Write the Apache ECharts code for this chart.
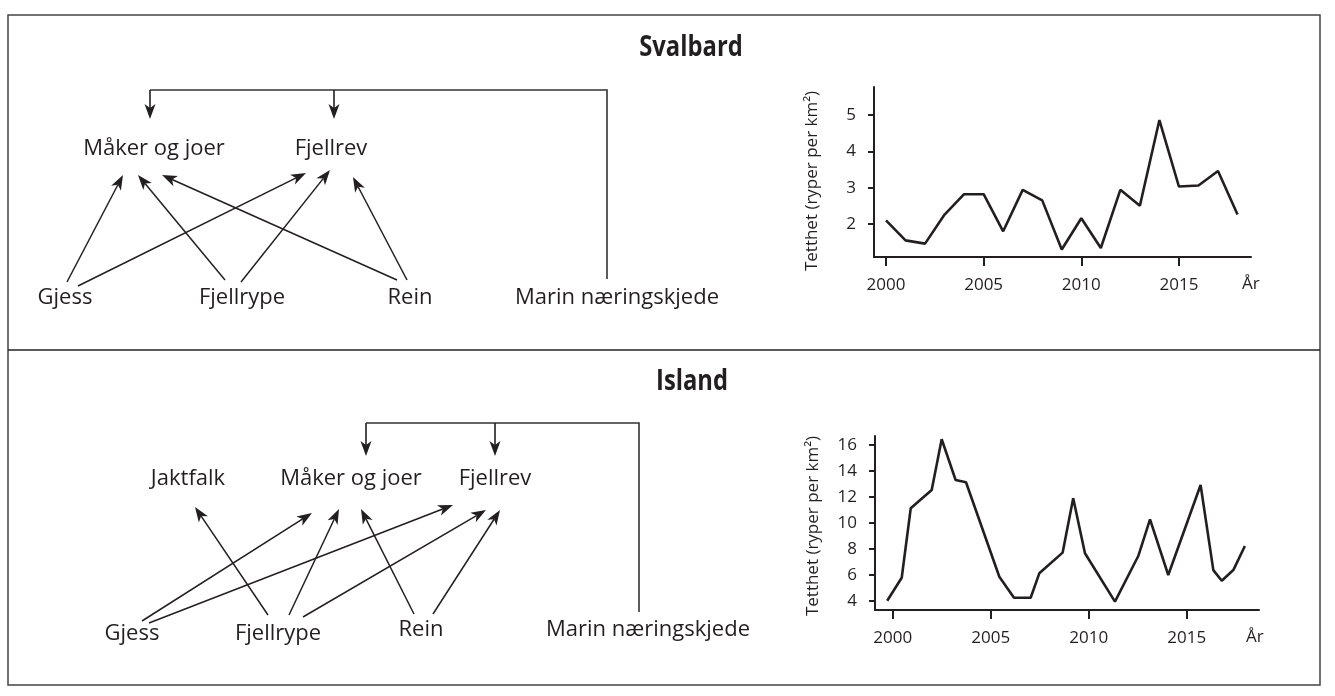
<!DOCTYPE html>
<html>
<head>
<meta charset="utf-8">
<script src="https://cdn.jsdelivr.net/npm/echarts@6/dist/echarts.min.js"></script>
<style>
  html, body { margin: 0; padding: 0; background: #fff; }
  #echarts { width: 1335px; height: 696px; }
</style>
</head>
<body>
<div id="echarts"></div>
<script>
// tetthet fjellrype, Svalbard
var svalbardYears = [2000, 2001, 2002, 2003, 2004, 2005, 2006, 2007, 2008, 2009,
  2010, 2011, 2012, 2013, 2014, 2015, 2016, 2017, 2018];
var svalbardValues = [2.10, 1.55, 1.46, 2.26, 2.82, 2.82, 1.80, 2.94, 2.65, 1.30,
  2.16, 1.34, 2.94, 2.50, 4.86, 3.03, 3.06, 3.46, 2.26];

// tetthet fjellrype, Island (punktene ligger ikke på hele år)
var islandYears = [1999.72, 2000.46, 2000.92, 2001.99, 2002.50, 2003.21, 2003.74, 2005.44,
  2006.19, 2007.04, 2007.48, 2008.67, 2009.21, 2009.81, 2011.34, 2012.53, 2013.13,
  2014.06, 2015.71, 2016.36, 2016.79, 2017.38, 2017.97];
var islandValues = [4.02, 5.79, 11.13, 12.54, 16.44, 13.31, 13.13, 5.87,
  4.25, 4.25, 6.13, 7.72, 11.90, 7.67, 3.95, 7.46, 10.28,
  6.00, 12.92, 6.38, 5.56, 6.38, 8.23];

var yearTicks = [2000, 2005, 2010, 2015];
var svalbardTicks = [2, 3, 4, 5];
var islandTicks = [4, 6, 8, 10, 12, 14, 16];

// næringsnett
var svalbardNodes = ["Måker og joer", "Fjellrev", "Gjess", "Fjellrype", "Rein", "Marin næringskjede"];
var svalbardEdges = [
  ["Gjess", "Måker og joer"], ["Gjess", "Fjellrev"],
  ["Fjellrype", "Måker og joer"], ["Fjellrype", "Fjellrev"],
  ["Rein", "Måker og joer"], ["Rein", "Fjellrev"]
];
var islandNodes = ["Jaktfalk", "Måker og joer", "Fjellrev", "Gjess", "Fjellrype", "Rein", "Marin næringskjede"];
var islandEdges = [
  ["Fjellrype", "Jaktfalk"],
  ["Gjess", "Måker og joer"], ["Gjess", "Fjellrev"],
  ["Fjellrype", "Måker og joer"], ["Fjellrype", "Fjellrev"],
  ["Rein", "Måker og joer"], ["Rein", "Fjellrev"]
];

// plassering av nettet (piksler)
var svalbardLayout = {
  title: [691, 48],
  nodes: {
    "Måker og joer": [154, 149], "Fjellrev": [331, 149],
    "Gjess": [65, 298], "Fjellrype": [242, 298], "Rein": [410, 298],
    "Marin næringskjede": [617, 298]
  },
  edges: [
    [67, 282, 123, 175], [78, 286, 306, 173],
    [225, 280, 138, 175], [241, 282, 330, 170],
    [397, 280, 162, 175], [407, 280, 353, 177]
  ],
  bracket: { xs: [150, 334], y: 90, tip: 119, right: 607, bottom: 279 }
};
var islandLayout = {
  title: [692, 382],
  nodes: {
    "Jaktfalk": [188, 479], "Måker og joer": [351, 479], "Fjellrev": [495, 479],
    "Gjess": [132, 634], "Fjellrype": [278, 634], "Rein": [421, 630],
    "Marin næringskjede": [648, 630]
  },
  edges: [
    [268, 615, 195, 507],
    [142, 621, 312, 513], [149, 623, 453, 505],
    [289, 615, 339, 509], [303, 617, 486, 510],
    [414, 614, 361, 509], [433, 614, 500, 510]
  ],
  bracket: { xs: [366, 495], y: 423, tip: 456, right: 639, bottom: 612 }
};

var INK = "#231f20";
var FONT = "'Open Sans', sans-serif";

function textEl(str, pos, size, weight, scaleX) {
  return {
    type: "text",
    silent: true,
    x: pos[0],
    y: pos[1],
    scaleX: scaleX || 1,
    style: {
      text: str, x: 0, y: 0,
      fill: INK, fontSize: size, fontWeight: weight, fontFamily: FONT,
      textAlign: "center", textVerticalAlign: "middle",
      align: "center", verticalAlign: "middle"
    }
  };
}

function arrowEls(x1, y1, x2, y2, width) {
  var dx = x2 - x1, dy = y2 - y1;
  var len = Math.sqrt(dx * dx + dy * dy);
  var ux = dx / len, uy = dy / len, px = -uy, py = ux;
  var L = 15, W = 5.5, N = 11;
  var bx = x2 - ux * N, by = y2 - uy * N;
  return [
    {
      type: "line", silent: true,
      shape: { x1: x1, y1: y1, x2: bx, y2: by },
      style: { stroke: INK, lineWidth: width || 1.5 }
    },
    {
      type: "polygon", silent: true,
      shape: {
        points: [
          [x2, y2],
          [x2 - ux * L + px * W, y2 - uy * L + py * W],
          [bx, by],
          [x2 - ux * L - px * W, y2 - uy * L - py * W]
        ]
      },
      style: { fill: INK }
    }
  ];
}

function foodWeb(name, nodes, edges, layout) {
  // tittelen er smal og fet i originalen
  var els = [textEl(name, layout.title, 29, "bold", 0.82)];
  nodes.forEach(function (n) {
    els.push(textEl(n, layout.nodes[n], 22, "normal"));
  });
  edges.forEach(function (e, i) {
    var p = layout.edges[i];
    els = els.concat(arrowEls(p[0], p[1], p[2], p[3]));
  });
  var b = layout.bracket;
  els.push({
    type: "polyline", silent: true,
    shape: { points: [[b.xs[0], b.y], [b.right, b.y], [b.right, b.bottom]] },
    style: { stroke: "#333", lineWidth: 1.6, fill: null }
  });
  b.xs.forEach(function (x) {
    els = els.concat(arrowEls(x, b.y, x, b.tip, 1.6));
  });
  return els;
}

var graphics = [
  {
    type: "rect", silent: true,
    shape: { x: 8, y: 15, width: 1312, height: 670 },
    style: { fill: null, stroke: "#444", lineWidth: 1.5 }
  },
  {
    type: "line", silent: true,
    shape: { x1: 8, y1: 350, x2: 1320, y2: 350 },
    style: { stroke: "#222", lineWidth: 1.3 }
  }
].concat(foodWeb("Svalbard", svalbardNodes, svalbardEdges, svalbardLayout))
 .concat(foodWeb("Island", islandNodes, islandEdges, islandLayout));

function toPairs(xs, ys) {
  return xs.map(function (x, i) { return [x, ys[i]]; });
}

function plain(v) {
  return String(v);
}

function xAxisFor(idx, min, max, gap) {
  return {
    gridIndex: idx,
    type: "value",
    min: min,
    max: max,
    name: "År",
    nameLocation: "end",
    nameGap: gap,
    nameTextStyle: { color: INK, fontSize: 17, fontFamily: FONT, verticalAlign: "top", padding: [19, 0, 0, 0] },
    axisLine: { show: true, onZero: false, lineStyle: { color: INK, width: 2 } },
    axisTick: { show: true, length: 9, customValues: yearTicks, lineStyle: { color: INK, width: 2 } },
    axisLabel: { customValues: yearTicks, formatter: plain, margin: 20, color: INK, fontSize: 17, fontFamily: FONT },
    splitLine: { show: false }
  };
}

function yAxisFor(idx, min, max, ticks, shift) {
  return {
    gridIndex: idx,
    type: "value",
    min: min,
    max: max,
    name: "Tetthet (ryper per km²)",
    nameLocation: "middle",
    nameGap: 53,
    nameTextStyle: { color: INK, fontSize: 17, fontFamily: FONT, padding: [0, shift, 0, 0] },
    axisLine: { show: true, lineStyle: { color: INK, width: 2 } },
    axisTick: { show: true, length: 6, customValues: ticks, lineStyle: { color: INK, width: 2 } },
    axisLabel: { customValues: ticks, formatter: plain, margin: 18, color: INK, fontSize: 17, fontFamily: FONT },
    splitLine: { show: false }
  };
}

var chartDom = document.getElementById("echarts");
var myChart = echarts.init(chartDom);
var option;

option = {
  animation: false,
  backgroundColor: "#fff",
  textStyle: { fontFamily: FONT },
  grid: [
    { left: 874, top: 87, width: 377, height: 170 },
    { left: 875, top: 436, width: 384, height: 174 }
  ],
  xAxis: [
    xAxisFor(0, 1999.386, 2018.69, -9),
    xAxisFor(1, 1999.097, 2018.69, -13)
  ],
  yAxis: [
    yAxisFor(0, 1.092, 5.77, svalbardTicks, 18),
    yAxisFor(1, 3.31, 16.69, islandTicks, 6)
  ],
  series: [
    {
      name: "Svalbard",
      type: "line",
      xAxisIndex: 0,
      yAxisIndex: 0,
      showSymbol: false,
      lineStyle: { color: INK, width: 2.6 },
      data: toPairs(svalbardYears, svalbardValues)
    },
    {
      name: "Island",
      type: "line",
      xAxisIndex: 1,
      yAxisIndex: 1,
      showSymbol: false,
      lineStyle: { color: INK, width: 2.6 },
      data: toPairs(islandYears, islandValues)
    }
  ],
  graphic: { elements: graphics }
};

option && myChart.setOption(option);
</script>
</body>
</html>
